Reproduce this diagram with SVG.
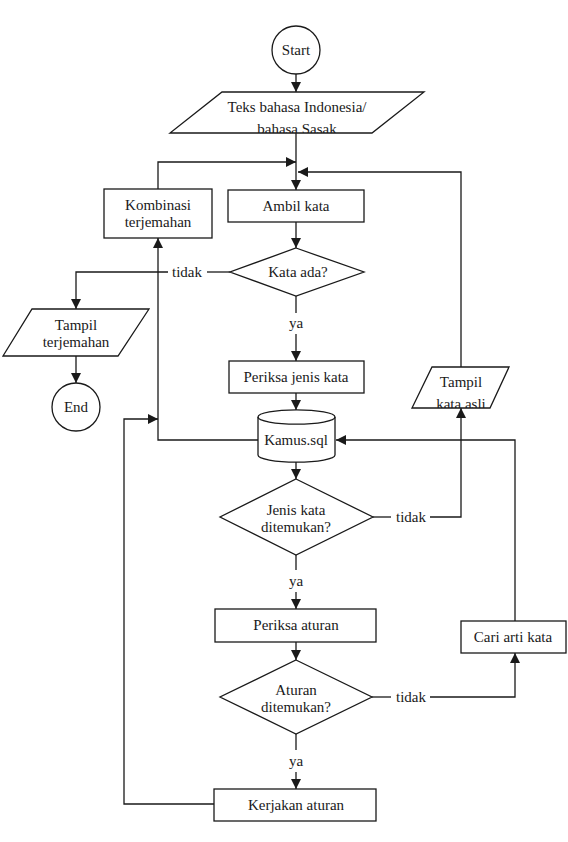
<svg xmlns="http://www.w3.org/2000/svg" width="568" height="842" viewBox="0 0 568 842">
<style>
.s{fill:#fff;stroke:#1a1a1a;stroke-width:1.3}
.c{fill:none;stroke:#1a1a1a;stroke-width:1.3}
text{font-family:"Liberation Serif","Times New Roman",serif;font-size:15px;fill:#1a1a1a;text-anchor:middle;dominant-baseline:central}
</style>
<defs>
<marker id="a" markerUnits="userSpaceOnUse" markerWidth="12" markerHeight="10" refX="10" refY="5" orient="auto"><path d="M0,0 L10,5 L0,10 Z" fill="#1a1a1a"/></marker>
<clipPath id="cp1"><polygon points="222,92 424,92 372,133 170,133"/></clipPath>
<clipPath id="cp2"><polygon points="432,367 509,367 490,408 412,408"/></clipPath>
</defs>
<g id="connectors">
<line class="c" x1="296" y1="74" x2="296" y2="92" marker-end="url(#a)"/>
<line class="c" x1="296" y1="133" x2="296" y2="190" marker-end="url(#a)"/>
<polyline class="c" points="158,189 158,162 296,162" marker-end="url(#a)"/>
<polyline class="c" points="461,367 461,172 298,172" marker-end="url(#a)"/>
<line class="c" x1="296" y1="222" x2="296" y2="248" marker-end="url(#a)"/>
<line class="c" x1="230" y1="272" x2="207" y2="272"/>
<polyline class="c" points="168,272 76,272 76,309" marker-end="url(#a)"/>
<line class="c" x1="76" y1="356" x2="76" y2="383" marker-end="url(#a)"/>
<line class="c" x1="296" y1="296" x2="296" y2="313"/>
<line class="c" x1="296" y1="334" x2="296" y2="361" marker-end="url(#a)"/>
<line class="c" x1="296" y1="393" x2="296" y2="410" marker-end="url(#a)"/>
<polyline class="c" points="258,440 158,440 158,238" marker-end="url(#a)"/>
<polyline class="c" points="214,804 124,804 124,419 158,419" marker-end="url(#a)"/>
<polyline class="c" points="515,621 515,440 336,440" marker-end="url(#a)"/>
<line class="c" x1="296" y1="462" x2="296" y2="479" marker-end="url(#a)"/>
<line class="c" x1="373" y1="517" x2="391" y2="517"/>
<polyline class="c" points="430,517 461,517 461,408" marker-end="url(#a)"/>
<line class="c" x1="296" y1="555" x2="296" y2="570"/>
<line class="c" x1="296" y1="592" x2="296" y2="609" marker-end="url(#a)"/>
<line class="c" x1="296" y1="642" x2="296" y2="660" marker-end="url(#a)"/>
<line class="c" x1="372" y1="697" x2="391" y2="697"/>
<polyline class="c" points="430,697 515,697 515,653" marker-end="url(#a)"/>
<line class="c" x1="296" y1="734" x2="296" y2="750"/>
<line class="c" x1="296" y1="772" x2="296" y2="789" marker-end="url(#a)"/>
<text x="187" y="272">tidak</text>
<text x="296" y="323">ya</text>
<text x="411" y="517">tidak</text>
<text x="296" y="581">ya</text>
<text x="411" y="697">tidak</text>
<text x="296" y="761">ya</text>
</g>
<g id="start"><circle class="s" cx="296" cy="50" r="24"/><text x="296" y="50">Start</text></g>
<g id="teks"><polygon class="s" points="222,92 424,92 372,133 170,133"/><text x="297" y="107">Teks bahasa Indonesia/</text><text x="297" y="129" clip-path="url(#cp1)">bahasa Sasak</text></g>
<g id="kombinasi"><rect class="s" x="104" y="189" width="108" height="49"/><text x="158" y="205">Kombinasi</text><text x="158" y="222">terjemahan</text></g>
<g id="ambil"><rect class="s" x="228" y="190" width="136" height="32"/><text x="296" y="206">Ambil kata</text></g>
<g id="kataada"><polygon class="s" points="296,248 364,272 296,296 230,272"/><text x="298" y="272">Kata ada?</text></g>
<g id="tampilterjemahan"><polygon class="s" points="32,309 149,309 118,356 3,356"/><text x="76" y="325">Tampil</text><text x="76" y="342">terjemahan</text></g>
<g id="end"><circle class="s" cx="76" cy="407" r="24"/><text x="76" y="407">End</text></g>
<g id="periksajenis"><rect class="s" x="229" y="361" width="135" height="32"/><text x="296" y="377">Periksa jenis kata</text></g>
<g id="kamus"><path class="s" d="M258,417 A38,7 0 0 1 335,417 L335,455 A38,7 0 0 1 258,455 Z"/><path class="c" d="M258,417 A38,7 0 0 0 335,417"/><text x="296" y="440">Kamus.sql</text></g>
<g id="tampilasli"><polygon class="s" points="432,367 509,367 490,408 412,408"/><text x="461" y="382">Tampil</text><text x="461" y="404" clip-path="url(#cp2)">kata asli</text></g>
<g id="jeniskata"><polygon class="s" points="296,479 373,517 296,555 220,517"/><text x="296" y="510">Jenis kata</text><text x="296" y="527">ditemukan?</text></g>
<g id="periksaaturan"><rect class="s" x="215" y="609" width="161" height="33"/><text x="296" y="625">Periksa aturan</text></g>
<g id="cari"><rect class="s" x="461" y="621" width="105" height="32"/><text x="513" y="637">Cari arti kata</text></g>
<g id="aturan"><polygon class="s" points="296,660 372,697 296,734 220,697"/><text x="296" y="690">Aturan</text><text x="296" y="707">ditemukan?</text></g>
<g id="kerjakan"><rect class="s" x="214" y="789" width="162" height="32"/><text x="296" y="805">Kerjakan aturan</text></g>
</svg>
